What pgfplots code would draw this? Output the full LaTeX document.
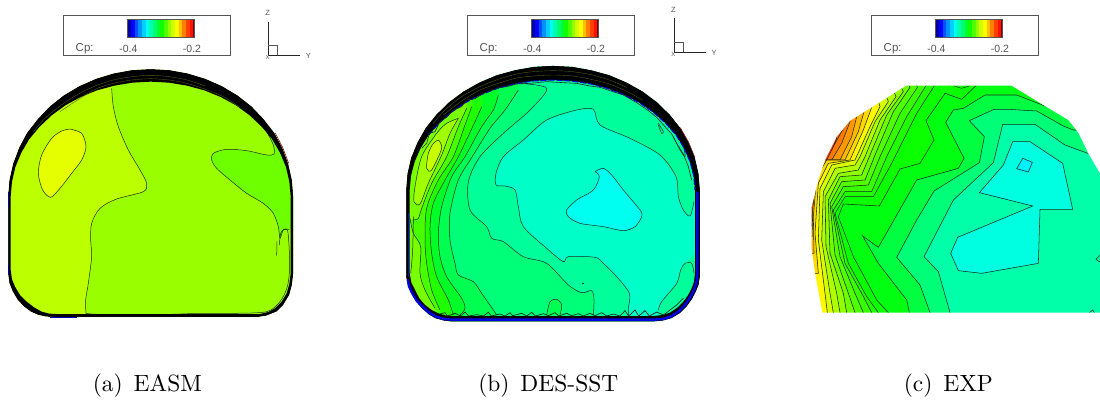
\documentclass[border=0pt]{standalone}
\usepackage{fontspec}
\setsansfont{Liberation Sans}
\usepackage{pgfplots}
\pgfplotsset{compat=1.18}
\definecolor{ctc}{HTML}{1A2A20}
\definecolor{lg}{HTML}{555555}
\newcommand\dc[1]{\definecolor{#1}{HTML}{#1}}
\dc{99FF00}\dc{BBFF00}\dc{E6FF00}\dc{6EFF00}\dc{4A5A18}\dc{0000C0}\dc{800000}\dc{00FF9A}\dc{00FFC8}\dc{00FFF0}\dc{00FF78}\dc{00FF50}\dc{00FF28}\dc{20FF00}\dc{48FF00}\dc{78FF00}\dc{A0FF00}\dc{C8FF00}\dc{0000E0}\dc{FF3000}\dc{FF5800}\dc{FF7800}\dc{FF9800}\dc{FFB800}\dc{FFD800}\dc{FFF800}\dc{D8FF00}\dc{B0FF00}\dc{90FF00}\dc{70FF00}\dc{50FF00}\dc{38FF00}\dc{0CFF00}\dc{00FF10}\dc{00FF40}\dc{00FFA8}\dc{00FFE0}\dc{00F0FF}\dc{00FFA0}\dc{0000A0}\dc{0000FF}\dc{0050FF}\dc{0090FF}\dc{00D0FF}\dc{00FFB0}\dc{00FF70}\dc{00FF30}\dc{10FF00}\dc{D0FF00}\dc{FFFF00}\dc{FFC000}\dc{FF8000}\dc{FF4000}\dc{FF1000}\dc{700000}
\pgfplotsset{
  reg/.style={fill=#1,draw=none},
  ctr/.style={fill=#1,draw=ctc,line width=.55pt},
  lin/.style={draw=ctc,line width=.5pt,fill=none},
  pa/.style={xshift=0pt},
  pb/.style={xshift=390pt},
  pc/.style={xshift=790pt},
}
% region: a flat fill of the contour and its closure, and the contour itself as a smooth line
\newcommand\rg[4]{%
  \addplot[#1,reg=#2] coordinates {#3 #4} -- cycle;
  \addplot[#1,lin,smooth] coordinates {#3};
}
\newcommand\band[4]{\addplot[fill=#4,draw=none,xshift=#1pt] coordinates {(#2,58)(#3,58)(#3,112)(#2,112)} -- cycle;}
\newcommand\legendat[1]{%
  \addplot[fill=white,draw=lg,line width=.5pt,xshift=#1pt] coordinates {(190,46)(690,46)(690,165)(190,165)} -- cycle;
  \band{#1}{382}{393}{0000A0}\band{#1}{393}{404}{0000FF}\band{#1}{404}{415}{0050FF}\band{#1}{415}{426}{0090FF}%
  \band{#1}{426}{437}{00D0FF}\band{#1}{437}{448}{00FFF0}\band{#1}{448}{459}{00FFB0}\band{#1}{459}{470}{00FF70}%
  \band{#1}{470}{481}{00FF30}\band{#1}{481}{492}{10FF00}\band{#1}{492}{503}{50FF00}\band{#1}{503}{514}{90FF00}%
  \band{#1}{514}{525}{D0FF00}\band{#1}{525}{536}{FFFF00}\band{#1}{536}{547}{FFC000}\band{#1}{547}{558}{FF8000}%
  \band{#1}{558}{570}{FF4000}\band{#1}{570}{578}{FF1000}\band{#1}{578}{582}{700000}%
  \addplot[draw=lg,line width=.4pt,fill=none,xshift=#1pt] coordinates {(382,58)(582,58)(582,112)(382,112)} -- cycle;
  \node[font=\sffamily\fontsize{11.5}{13}\selectfont,text=lg,xshift=#1pt] at (axis cs:254,146) {Cp:};
  \node[font=\sffamily\fontsize{10.5}{12}\selectfont,text=lg,xshift=#1pt] at (axis cs:385,146) {-0.4};
  \node[font=\sffamily\fontsize{10.5}{12}\selectfont,text=lg,xshift=#1pt] at (axis cs:576,146) {-0.2};
}
\begin{document}
\begin{tikzpicture}
\begin{axis}[at={(0,0)},anchor=south west,scale only axis,width=1100pt,height=403pt,
  xmin=0,xmax=3300,ymin=0,ymax=1209,y dir=reverse,hide axis,no markers]
\addplot[fill=white,draw=none] coordinates {(0,0)(3300,0)(3300,1209)(0,1209)} -- cycle;

%%% PANEL A
\addplot[pa,reg=99FF00] coordinates {(-20,180)(970,180)(970,1000)(-20,1000)} -- cycle;
\rg{pa}{BBFF00}{(335,265)(340,320)(355,380)(385,450)(420,510)(440,550)(430,575)(350,597)(300,625)(275,670)(272,720)(275,770)(265,850)(257,900)(258,940)}{(258,1000)(-20,1000)(-20,200)(335,200)}
\rg{pa}{E6FF00}{(210,387)(245,400)(258,440)(245,480)(215,520)(180,565)(152,592)(128,570)(115,520)(125,465)(155,415)(185,393)(210,387)}{}
\rg{pa}{6EFF00}{(800,395)(820,435)(822,462)(800,465)(740,452)(680,448)(640,460)(635,480)(650,505)(690,540)(740,580)(790,610)(820,640)(835,680)(840,715)(850,690)(868,688)}{(960,685)(960,340)(780,340)}
\addplot[pa,lin] coordinates {(830,767)(831,725)};
\addplot[pa,lin,smooth] coordinates {(838,735)(842,700)(852,688)(862,690)(866,720)(869,800)(862,860)(840,905)(800,935)(700,940)(600,940)(500,943)(300,943)(258,940)};
\addplot[pa,reg=black] coordinates {(160,951)(138,950)(115,945)(92,935)(72,920)(53,900)(38,875)(28,850)(24,820)(24,590)(28,540)(39,491)(57,443)(81,398)(113,357)(149,319)(191,286)(238,258)(288,236)(341,220)(396,210)(452,207)(508,210)(563,220)(616,236)(666,258)(713,286)(755,319)(791,357)(823,398)(847,443)(865,491)(876,540)(880,590)(880,820)(876,855)(868,885)(850,915)(830,935)(800,947)(775,951)(160,951)(170,942)(780,942)(805,936)(825,925)(845,905)(860,880)(868,852)(872,820)(872,590)(868,545)(858,501)(840,458)(816,417)(785,380)(749,346)(708,316)(662,291)(613,271)(561,257)(507,248)(452,245)(397,248)(343,257)(291,271)(242,291)(196,316)(155,346)(119,380)(88,417)(64,458)(46,501)(36,545)(32,590)(32,810)(36,838)(45,860)(60,885)(80,905)(102,922)(125,935)(148,941)(170,942)} -- cycle;
\addplot[pa,draw=4A5A18,line width=.4pt,fill=none,smooth] coordinates {(100,395)(135,355)(180,318)(230,285)(285,258)(340,240)(396,230)(452,226)(507,230)(561,240)(616,258)};
\addplot[pa,draw=4A5A18,line width=.4pt,fill=none,smooth] coordinates {(180,335)(240,295)(290,266)(340,250)(396,240)(452,236)(507,240)(561,250)(616,268)(670,290)(720,322)};
\addplot[pa,reg=white] coordinates {(-26,174)(976,174)(976,1006)(160,1006)(160,951)(775,951)(800,947)(830,935)(850,915)(868,885)(876,855)(880,820)(880,590)(876,540)(865,491)(847,443)(823,398)(791,357)(755,319)(713,286)(666,258)(616,236)(563,220)(508,210)(452,207)(396,210)(341,220)(288,236)(238,258)(191,286)(149,319)(113,357)(81,398)(57,443)(39,491)(28,540)(24,590)(24,820)(28,850)(38,875)(53,900)(72,920)(92,935)(115,945)(138,950)(160,951)(160,1006)(-26,1006)} -- cycle;
\addplot[pa,draw=0000C0,line width=.8pt,fill=none] coordinates {(25,575)(25,622)};
\addplot[pa,draw=0000C0,line width=.8pt,fill=none] coordinates {(25,795)(25,825)};
\addplot[pa,draw=0000C0,line width=.8pt,fill=none] coordinates {(150,951)(232,951)};
\addplot[pa,draw=800000,line width=.5pt,fill=none] coordinates {(825,398)(848,442)(866,490)};

%%% PANEL B
\addplot[pb,reg=00FF9A] coordinates {(-20,180)(960,180)(960,1000)(-20,1000)} -- cycle;
\rg{pb}{00FFC8}{(912,605)(900,648)(880,630)(865,590)(858,530)(810,465)(720,415)(630,375)(610,328)(560,330)(470,360)(400,420)(340,470)(318,520)(318,555)(345,558)(375,570)(385,620)(400,680)(470,745)(520,785)(535,770)(615,772)(640,790)(680,830)(718,880)(715,925)(715,945)}{(715,1000)(805,1000)(805,930)(815,905)(860,850)(872,810)(885,790)(915,760)(960,760)(960,600)}
\addplot[pb,lin,smooth] coordinates {(805,930)(815,905)(860,850)(872,810)(885,790)(905,790)(912,820)};
\rg{pb}{00FFF0}{(615,515)(640,505)(665,525)(700,570)(750,630)(755,650)(735,680)(700,692)(640,680)(570,670)(535,650)(530,630)(560,600)(610,570)(628,530)(615,515)}{}
\rg{pb}{00FF78}{(385,250)(470,265)(420,330)(340,400)(270,470)(235,545)(240,630)(290,680)(305,715)(340,725)(400,770)(470,790)(535,855)(575,878)(605,872)(612,900)(610,945)}{(610,1000)(-20,1000)(-20,200)(385,200)}
\rg{pb}{00FF50}{(470,945)(480,905)(500,898)(515,915)(510,945)}{}
\rg{pb}{00FF50}{(385,270)(345,330)(300,385)(250,465)(205,540)(180,640)(180,720)(195,790)(205,825)(250,845)(275,880)(310,930)(320,945)}{(320,1000)(-20,1000)(-20,200)(385,200)}
\rg{pb}{00FF28}{(325,285)(310,330)(275,380)(225,470)(185,530)(155,620)(145,700)(150,770)(170,830)(215,895)(225,925)(210,945)}{(210,1000)(-20,1000)(-20,200)(325,200)}
\rg{pb}{20FF00}{(275,320)(255,365)(205,470)(165,540)(130,610)(120,680)(125,760)(140,830)(175,900)(190,945)}{(190,1000)(-20,1000)(-20,200)(275,200)}
\rg{pb}{48FF00}{(245,320)(225,375)(190,470)(145,540)(110,625)(105,720)(110,790)(125,870)(150,930)}{(150,1000)(-20,1000)(-20,200)(245,200)}
\rg{pb}{78FF00}{(230,325)(205,380)(170,470)(125,550)(95,625)(85,655)(68,660)}{(-20,660)(-20,200)(230,200)}
\rg{pb}{78FF00}{(60,655)(70,700)(92,740)(90,820)(105,870)(135,925)}{(135,1000)(-20,1000)(-20,655)}
\rg{pb}{A0FF00}{(205,355)(180,400)(155,465)(115,550)(90,612)(72,605)(75,560)(95,470)(140,400)(170,370)(205,355)}{}
\rg{pb}{C8FF00}{(145,420)(155,445)(125,510)(110,505)(115,460)(130,430)(145,420)}{}
\addplot[pb,lin] coordinates {(575,849)(582,849)};
\addplot[pb,lin,smooth] coordinates {(805,370)(820,395)(815,400)(805,375)};
\addplot[pb,lin,smooth] coordinates {(850,410)(870,450)(885,470)(880,440)(862,410)};
\addplot[pb,lin,smooth] coordinates {(70,650)(68,750)(62,820)};
\addplot[pb,reg=black] coordinates {(185,965)(160,962)(135,955)(115,943)(95,925)(77,905)(62,880)(53,860)(48,830)(48,570)(52,521)(63,473)(82,427)(107,383)(139,343)(177,306)(220,274)(268,247)(320,225)(375,210)(431,200)(489,197)(547,200)(603,210)(658,225)(710,247)(758,274)(801,306)(839,343)(871,383)(896,427)(915,473)(926,521)(930,570)(930,830)(926,855)(918,875)(906,898)(890,920)(870,940)(845,955)(820,962)(790,965)(185,965)(185,948)(790,948)(818,945)(840,938)(862,923)(880,905)(894,886)(905,865)(912,845)(915,820)(915,570)(911,527)(900,485)(882,444)(858,405)(826,369)(790,337)(748,308)(701,284)(651,265)(598,251)(543,243)(487,240)(431,243)(376,251)(323,265)(273,284)(226,308)(184,337)(148,369)(116,405)(92,444)(74,485)(63,527)(59,570)(59,820)(64,848)(75,870)(88,895)(105,915)(125,930)(145,940)(165,946)(185,948)} -- cycle;
\addplot[pb,draw=4A5A18,line width=.4pt,fill=none,smooth] coordinates {(130,370)(165,330)(215,290)(270,260)(325,238)(380,222)(431,215)(489,212)(547,215)(603,224)(658,240)(710,262)};
\addplot[pb,draw=4A5A18,line width=.4pt,fill=none,smooth] coordinates {(160,345)(215,303)(270,270)(325,250)(380,234)(431,228)(489,225)(547,228)(603,238)(658,252)(710,274)(758,300)};
\addplot[pb,draw=0000E0,line width=1pt,fill=none,dash pattern=on 6pt off 2pt] coordinates {(116,405)(148,369)(184,337)(226,308)(273,284)(323,265)(376,251)(431,243)(487,240)(543,243)(598,251)(651,265)(701,284)(748,308)(790,337)(826,369)(858,405)(882,444)(900,485)(911,527)(915,570)};
\addplot[pb,draw=ctc,line width=.6pt,fill=none] coordinates {(95,445)(110,430)(118,400)(135,395)(150,365)(170,352)(190,330)(215,320)(230,300)(255,296)(280,280)(300,272)(330,262)(350,260)(380,252)(420,250)(470,245)(520,248)(560,250)(600,258)(630,262)(660,272)(700,285)(740,308)(775,332)(800,352)(825,380)(845,402)(860,430)(880,462)(895,500)(905,540)};
\addplot[pb,draw=ctc,line width=.7pt,fill=none] coordinates {(150,942)(165,938)(172,948)(195,940)(212,948)(225,936)(236,948)(260,944)(280,948)(295,937)(304,948)(330,942)(345,948)(360,938)(368,947)(395,940)(410,948)(425,937)(436,948)(460,941)(475,947)(495,938)(506,948)(530,940)(545,947)(565,941)(580,948)(600,940)(615,947)(635,938)(650,948)(670,942)(690,948)(705,932)(716,948)(735,930)(746,948)(765,932)(778,948)(800,936)(820,945)(840,930)(860,915)(880,895)};
\addplot[pb,draw=0000E0,line width=2.5pt,fill=none] coordinates {(52,838)(58,860)(66,880)(80,902)(98,920)(118,938)(138,950)(162,957)(185,959)(790,959)(818,957)(842,950)(865,935)(885,915)(900,893)(912,870)(918,852)(922,830)(922,575)};
\addplot[pb,draw=0000E0,line width=.8pt,fill=none] coordinates {(54,640)(54,830)};
\addplot[pb,reg=white] coordinates {(-26,174)(966,174)(966,1006)(185,1006)(185,965)(790,965)(820,962)(845,955)(870,940)(890,920)(906,898)(918,875)(926,855)(930,830)(930,570)(926,521)(915,473)(896,427)(871,383)(839,343)(801,306)(758,274)(710,247)(658,225)(603,210)(547,200)(489,197)(431,200)(375,210)(320,225)(268,247)(220,274)(177,306)(139,343)(107,383)(82,427)(63,473)(52,521)(48,570)(48,830)(53,860)(62,880)(77,905)(95,925)(115,943)(135,955)(160,962)(185,965)(185,1006)(-26,1006)} -- cycle;
\addplot[pb,draw=800000,line width=.5pt,fill=none] coordinates {(871,383)(896,427)(915,473)};

%%% PANEL C
\addplot[pc,reg=FF3000] coordinates {(-30,180)(1000,180)(1000,1000)(-30,1000)} -- cycle;
\addplot[pc,ctr=FF5800] coordinates {(100,200)(140,415)(110,490)(75,570)(60,640)(-30,640)(-30,1000)(1000,1000)(1000,200)} -- cycle;
\addplot[pc,ctr=FF7800] coordinates {(120,200)(160,385)(130,440)(105,490)(80,570)(62,660)(-30,660)(-30,1000)(1000,1000)(1000,200)} -- cycle;
\addplot[pc,ctr=FF9800] coordinates {(140,200)(180,365)(155,430)(125,480)(95,490)(75,600)(64,680)(-30,680)(-30,1000)(1000,1000)(1000,200)} -- cycle;
\addplot[pc,ctr=FFB800] coordinates {(160,200)(200,350)(185,410)(150,480)(100,480)(72,580)(68,640)(66,710)(-30,710)(-30,1000)(1000,1000)(1000,200)} -- cycle;
\addplot[pc,ctr=FFD800] coordinates {(180,200)(222,335)(205,395)(165,480)(110,480)(80,530)(70,650)(72,760)(-30,760)(-30,1000)(1000,1000)(1000,200)} -- cycle;
\addplot[pc,ctr=FFF800] coordinates {(205,200)(245,322)(220,390)(180,480)(115,490)(85,550)(75,700)(85,820)(-30,820)(-30,1000)(1000,1000)(1000,200)} -- cycle;
\addplot[pc,ctr=D8FF00] coordinates {(230,200)(270,320)(240,380)(195,480)(125,495)(90,565)(85,720)(105,880)(112,938)(112,1000)(1000,1000)(1000,200)} -- cycle;
\addplot[pc,ctr=B0FF00] coordinates {(255,200)(295,305)(255,365)(210,470)(195,495)(135,505)(100,575)(95,720)(120,880)(130,938)(130,1000)(1000,1000)(1000,200)} -- cycle;
\addplot[pc,ctr=90FF00] coordinates {(280,200)(318,290)(270,360)(225,470)(205,510)(145,520)(105,590)(108,740)(140,880)(150,938)(150,1000)(1000,1000)(1000,200)} -- cycle;
\addplot[pc,ctr=70FF00] coordinates {(300,200)(340,275)(290,345)(240,465)(215,525)(150,530)(115,600)(120,760)(160,880)(170,938)(170,1000)(1000,1000)(1000,200)} -- cycle;
\addplot[pc,ctr=50FF00] coordinates {(330,200)(360,262)(310,335)(255,465)(225,540)(155,545)(120,610)(135,765)(175,880)(195,938)(195,1000)(1000,1000)(1000,200)} -- cycle;
\addplot[pc,ctr=38FF00] coordinates {(360,200)(382,262)(330,340)(270,470)(235,555)(160,560)(125,620)(150,770)(195,880)(220,938)(220,1000)(1000,1000)(1000,200)} -- cycle;
\addplot[pc,ctr=20FF00] coordinates {(408,200)(408,257)(350,350)(290,470)(245,575)(165,575)(130,630)(165,790)(215,880)(245,938)(245,1000)(1000,1000)(1000,200)} -- cycle;
\addplot[pc,ctr=0CFF00] coordinates {(433,200)(433,257)(380,340)(305,490)(250,590)(165,590)(135,640)(175,790)(230,890)(265,938)(265,1000)(1000,1000)(1000,200)} -- cycle;
\addplot[pc,ctr=00FF10] coordinates {(558,200)(558,257)(515,298)(465,280)(408,362)(432,420)(390,490)(330,507)(268,618)(160,612)(145,650)(190,770)(260,900)(295,938)(295,1000)(1000,1000)(1000,200)} -- cycle;
\addplot[pc,ctr=00FF40] coordinates {(1000,318)(765,318)(680,285)(585,285)(520,325)(490,330)(467,367)(522,475)(505,505)(380,540)(265,742)(218,708)(265,790)(350,900)(358,938)(358,1000)(1000,1000)} -- cycle;
\addplot[pc,ctr=00FF78] coordinates {(1000,390)(850,390)(820,378)(740,333)(655,328)(612,328)(538,362)(583,410)(568,488)(432,573)(380,660)(320,772)(390,855)(420,938)(420,1000)(1000,1000)} -- cycle;
\addplot[pc,ctr=00FFA8] coordinates {(1000,500)(893,460)(825,435)(735,373)(638,373)(610,488)(490,600)(402,770)(445,815)(480,938)(480,1000)(1000,1000)} -- cycle;
\addplot[pc,ctr=00FFE0] coordinates {(668,425)(720,425)(818,490)(848,628)(750,628)(745,790)(575,820)(505,812)(482,760)(503,712)(728,618)(568,578)(640,495)} -- cycle;
\addplot[pc,ctr=00F0FF] coordinates {(698,475)(727,487)(715,516)(680,506)} -- cycle;
\addplot[pc,lin] coordinates {(490,257)(515,265)(540,257)};
\addplot[pc,ctr=00FFA0] coordinates {(935,760)(918,778)(935,790)} -- cycle;
\addplot[pc,lin] coordinates {(898,938)(908,930)(913,938)};
\addplot[pc,reg=white] coordinates {(-36,176)(1000,176)(1000,640)(930,520)(895,460)(865,398)(835,360)(765,318)(665,257)(348,257)(245,322)(180,362)(140,410)(105,480)(85,540)(65,620)(65,750)(75,820)(97,938)(1000,938)(1000,1006)(-36,1006)} -- cycle;

%%% LEGENDS
\legendat{0}
\legendat{404}
\legendat{808}

%%% TRIADS
\addplot[draw=black!85,line width=.6pt,fill=none] coordinates {(805,65)(805,165)(900,165)};
\addplot[draw=lg,line width=.5pt,fill=none] coordinates {(805,135)(833,135)(833,165)};
\node[font=\sffamily\fontsize{7.5}{9}\selectfont,text=lg] at (axis cs:803,40) {Z};
\node[font=\sffamily\fontsize{7.5}{9}\selectfont,text=lg] at (axis cs:925,168) {Y};
\node[font=\sffamily\fontsize{6}{7}\selectfont,text=lg] at (axis cs:803,172) {X};
\addplot[pb,draw=black!85,line width=.6pt,fill=none] coordinates {(852,55)(852,157)(948,157)};
\addplot[pb,draw=lg,line width=.5pt,fill=none] coordinates {(852,128)(880,128)(880,157)};
\node[font=\sffamily\fontsize{7.5}{9}\selectfont,text=lg,xshift=390pt] at (axis cs:850,30) {Z};
\node[font=\sffamily\fontsize{7.5}{9}\selectfont,text=lg,xshift=390pt] at (axis cs:972,158) {Y};
\node[font=\sffamily\fontsize{6}{7}\selectfont,text=lg,xshift=390pt] at (axis cs:850,164) {X};

%%% CAPTIONS
\node[scale=2.35,font=\rmfamily] at (axis cs:442,1156) {(a)\hspace{4.6pt}EASM};
\node[scale=2.35,font=\rmfamily] at (axis cs:1645,1156) {(b)\hspace{4.6pt}DES-SST};
\node[scale=2.35,font=\rmfamily] at (axis cs:2845,1156) {(c)\hspace{4.6pt}EXP};
\end{axis}
\end{tikzpicture}
\end{document}
